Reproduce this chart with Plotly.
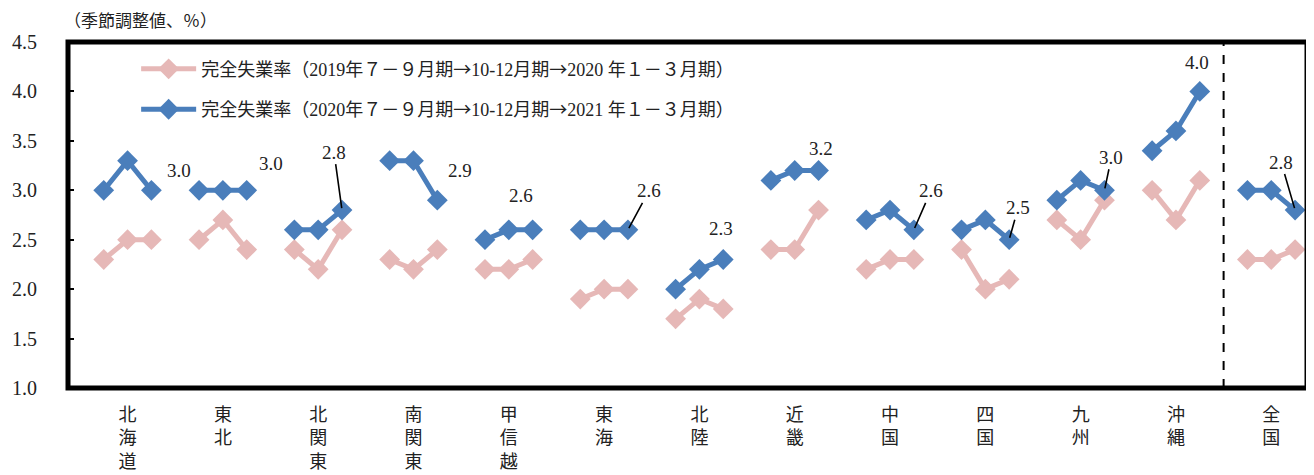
import plotly.graph_objects as go

regions = ["北海道", "東北", "北関東", "南関東", "甲信越", "東海", "北陸",
           "近畿", "中国", "四国", "九州", "沖縄", "全国"]

# 2019年7-9月期 → 10-12月期 → 2020年1-3月期
rate_2019 = [
    [2.3, 2.5, 2.5], [2.5, 2.7, 2.4], [2.4, 2.2, 2.6], [2.3, 2.2, 2.4],
    [2.2, 2.2, 2.3], [1.9, 2.0, 2.0], [1.7, 1.9, 1.8], [2.4, 2.4, 2.8],
    [2.2, 2.3, 2.3], [2.4, 2.0, 2.1], [2.7, 2.5, 2.9], [3.0, 2.7, 3.1],
    [2.3, 2.3, 2.4],
]
# 2020年7-9月期 → 10-12月期 → 2021年1-3月期
rate_2020 = [
    [3.0, 3.3, 3.0], [3.0, 3.0, 3.0], [2.6, 2.6, 2.8], [3.3, 3.3, 2.9],
    [2.5, 2.6, 2.6], [2.6, 2.6, 2.6], [2.0, 2.2, 2.3], [3.1, 3.2, 3.2],
    [2.7, 2.8, 2.6], [2.6, 2.7, 2.5], [2.9, 3.1, 3.0], [3.4, 3.6, 4.0],
    [3.0, 3.0, 2.8],
]

ARROW = '<span style="font-family:Noto Sans CJK JP">→</span>'
name_2019 = f"完全失業率（2019年７－９月期{ARROW}10-12月期{ARROW}2020 年１－３月期）"
name_2020 = f"完全失業率（2020年７－９月期{ARROW}10-12月期{ARROW}2021 年１－３月期）"

# label offsets in px from last point: (dx, dy, leader line)
label_pos = [
    (28, -20, False), (24, -27, False), (-8, -58, True), (23, -30, False),
    (-12, -34, False), (21, -39, True), (-2, -31, False), (2, -22, False),
    (17, -39, True), (9, -32, True), (7, -33, True), (-3, -29, False),
    (-14, -48, True),
]

BLUE = "#4A7EBB"
PINK = "#E6B8B7"
SERIF = "Liberation Serif, Noto Sans CJK JP"
CJK = "Noto Sans CJK JP"

xs, y19, y20 = [], [], []
for g in range(len(regions)):
    for k in range(3):
        xs.append(g * 4 + 1 + k)
        y19.append(rate_2019[g][k])
        y20.append(rate_2020[g][k])
    xs.append(g * 4 + 4)
    y19.append(None)
    y20.append(None)

fig = go.Figure()
fig.add_trace(go.Scatter(
    x=xs, y=y19, name=name_2019, mode="lines+markers", legendgroup="a",
    line=dict(color=PINK, width=5), connectgaps=False, cliponaxis=False,
    marker=dict(symbol="diamond", size=16, color=PINK),
))
fig.add_trace(go.Scatter(
    x=xs, y=y20, name=name_2020, mode="lines+markers", legendgroup="b",
    line=dict(color=BLUE, width=5), connectgaps=False, cliponaxis=False,
    marker=dict(symbol="diamond", size=16, color=BLUE),
))

annotations = []
for g, (dx, dy, leader) in enumerate(label_pos):
    v = rate_2020[g][2]
    a = dict(x=g * 4 + 3, y=v, xref="x", yref="y", text=f"{v:.1f}",
             font=dict(family=SERIF, size=19, color="#222"))
    if leader:
        a.update(showarrow=True, arrowhead=0, arrowwidth=1.6, arrowcolor="black",
                 ax=dx, ay=dy, standoff=2)
    else:
        a.update(showarrow=False, xshift=dx, yshift=-dy)
    annotations.append(a)

annotations.append(dict(
    x=-0.005, y=1.023, xref="paper", yref="paper", text="（季節調整値、％）",
    showarrow=False, font=dict(family=CJK, size=17, color="#222"),
    xanchor="left", yanchor="bottom",
))

sep = (len(regions) - 1) * 4
fig.add_shape(type="line", x0=sep, x1=sep, y0=0, y1=1, xref="x", yref="paper",
              line=dict(color="black", width=2, dash="dash"))
fig.add_shape(type="rect", x0=0, x1=1, y0=0, y1=1, xref="paper", yref="paper",
              line=dict(color="black", width=5))

# page body has an 8px margin, so the figure is shrunk by that amount
fig.update_layout(
    width=1306, height=467,
    margin=dict(l=60, r=7, t=34, b=87, autoexpand=False),
    plot_bgcolor="white", paper_bgcolor="white",
    showlegend=True,
    legend=dict(x=0.055, y=0.975, xanchor="left", yanchor="top",
                bgcolor="rgba(0,0,0,0)", font=dict(family=SERIF, size=18, color="#222"),
                itemwidth=55, tracegroupgap=14),
    annotations=annotations,
)
fig.update_xaxes(
    range=[-0.5, len(regions) * 4 - 0.5], automargin=False,
    tickvals=[g * 4 + 2 for g in range(len(regions))],
    ticktext=["<br>".join(r) for r in regions],
    tickfont=dict(family=CJK, size=18, color="#222"),
    showgrid=False, zeroline=False, ticks="", showline=False,
    ticklabelstandoff=14,
)
fig.update_yaxes(
    range=[1.0, 4.5], dtick=0.5, tickformat=".1f", automargin=False,
    tickfont=dict(family=SERIF, size=20, color="#222"),
    showgrid=False, zeroline=False, ticks="inside", ticklen=6, tickwidth=1.5,
    tickcolor="black", ticklabelstandoff=30, showline=False,
)

fig.write_html("out.html")
